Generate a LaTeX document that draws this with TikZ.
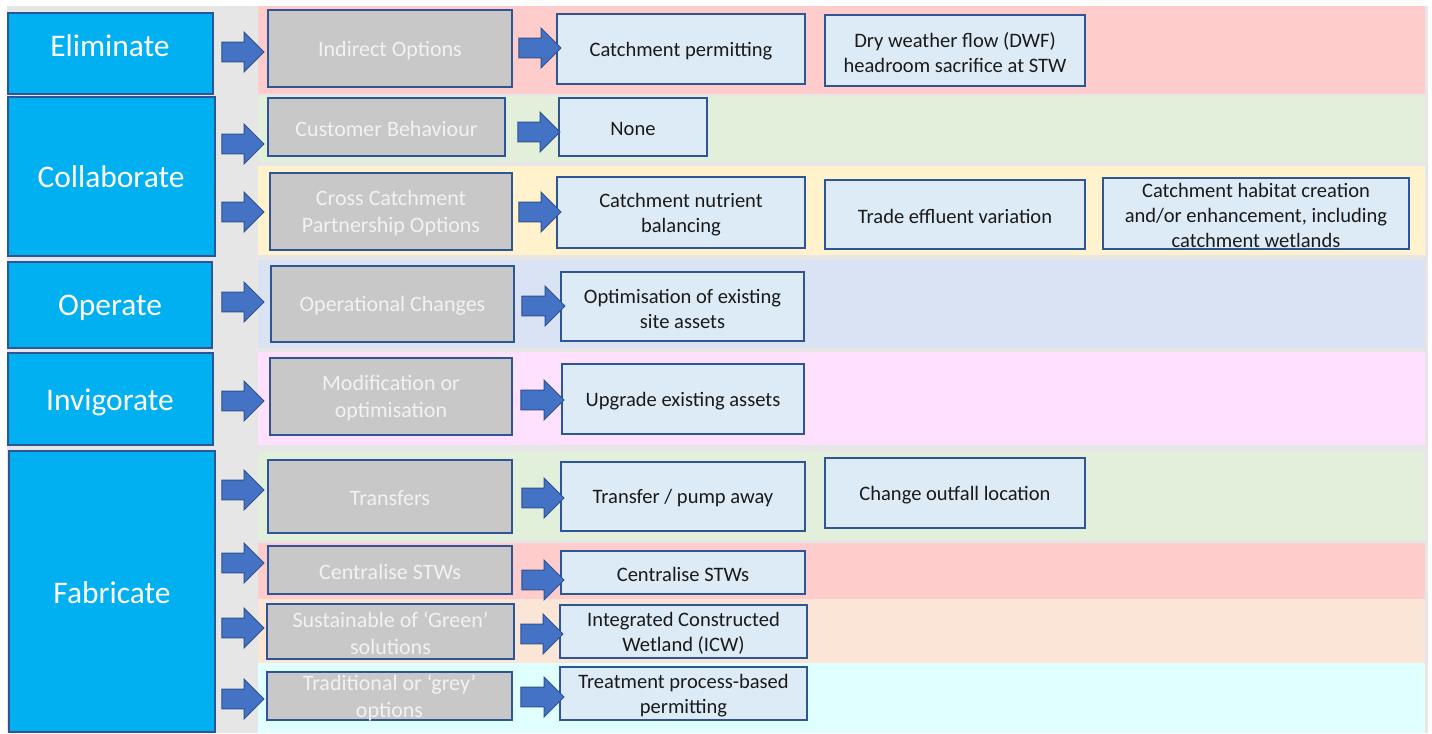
\documentclass[tikz,border=0pt]{standalone}
\usepackage{fontspec}
\setmainfont{Carlito}
\usetikzlibrary{shapes.arrows}

\definecolor{panelgray}{HTML}{E6E6E6}
\definecolor{levelblue}{HTML}{00B0F0}
\definecolor{boxedge}{HTML}{2F5597}
\definecolor{optgray}{HTML}{C8C8C8}
\definecolor{optblue}{HTML}{DDEBF7}
\definecolor{arrowfill}{HTML}{4472C4}
\definecolor{arrowedge}{HTML}{2F528F}
\definecolor{bandred}{HTML}{FFCCCC}
\definecolor{bandgreen}{HTML}{E2EFDA}
\definecolor{bandyellow}{HTML}{FFF2CC}
\definecolor{bandblue}{HTML}{DAE3F3}
\definecolor{bandpink}{HTML}{FFE0FF}
\definecolor{bandpeach}{HTML}{FBE5D6}
\definecolor{bandcyan}{HTML}{E0FFFF}
\definecolor{lighttext}{HTML}{F2F2F2}
\definecolor{darktext}{HTML}{1A1A1A}

% a box of given corners (in px units): style, name, x1, y1, x2, y2
\newcommand\boxat[6]{%
  \node[#1, minimum width={(#5-#3)*0.75pt}, minimum height={(#6-#4)*0.75pt}]
    (#2) at ({(#3+#5)/2},{(#4+#6)/2}) {};}
% a block arrow: name, tail x, tip x, centre y
\newcommand\blockarrow[4]{%
  \node[blockarr, minimum height={(#3-#2)*0.75pt}] (#1) at ({(#2+#3)/2},#4) {};}
% a coloured band behind one row: colour, top y, bottom y
\newcommand\band[3]{\fill[#1] (258,#2) rectangle (1425,#3);}

\begin{document}
\begin{tikzpicture}[x=0.75pt, y=-0.75pt,
  levelbox/.style={draw=boxedge, fill=levelblue, line width=1.2pt, inner sep=0pt},
  optbox/.style={draw=boxedge, fill=optgray, line width=1pt, inner sep=0pt},
  resbox/.style={draw=boxedge, fill=optblue, line width=1pt, inner sep=0pt},
  leveltxt/.style={text=white, font=\fontsize{23.6}{28}\selectfont, inner sep=0pt},
  opttxt/.style={text=lighttext, align=center, font=\fontsize{16.5}{20.25}\selectfont,
    inner sep=0pt, yshift=-1.5pt},
  restxt/.style={text=darktext, align=center, font=\fontsize{15.4}{18.75}\selectfont,
    inner sep=0pt, yshift=-1.5pt},
  blockarr/.style={single arrow, draw=arrowedge, fill=arrowfill, line width=0.75pt,
    inner xsep=0pt, inner ysep=7.1pt, single arrow head extend=7.5pt,
    single arrow tip angle=90},
]
\useasboundingbox (0,0) rectangle (1432,733);

% panel and row bands
\fill[panelgray] (7,6) rectangle (1428,733);
\band{bandred}{6}{94}
\band{bandgreen}{96}{162}
\band{bandyellow}{166}{255}
\band{bandblue}{260}{348}
\band{bandpink}{352}{445}
\band{bandgreen}{452}{540}
\band{bandred}{543}{599}
\band{bandpeach}{599}{663}
\band{bandcyan}{663}{733}

% level boxes
\boxat{levelbox}{L1}{8}{13}{213}{94}
\boxat{levelbox}{L2}{8}{97}{215}{256}
\boxat{levelbox}{L3}{8}{262}{212}{348}
\boxat{levelbox}{L4}{8}{353}{213}{445}
\boxat{levelbox}{L5}{9}{451}{215}{732}
\node[leveltxt] (L1t) at (110,46) {Eliminate};
\node[leveltxt] (L2t) at (111,177) {Collaborate};
\node[leveltxt] (L3t) at (110,308) {Operate};
\node[leveltxt] (L4t) at (110,402) {Invigorate};
\node[leveltxt] (L5t) at (112,593) {Fabricate};

% option boxes
\boxat{optbox}{G1}{268}{10}{512}{87}
\boxat{optbox}{G2}{268}{98}{505}{156}
\boxat{optbox}{G3}{270}{173}{512}{250}
\boxat{optbox}{G4}{271}{266}{514}{342}
\boxat{optbox}{G5}{270}{358}{512}{435}
\boxat{optbox}{G6}{268}{460}{512}{533}
\boxat{optbox}{G7}{268}{546}{512}{594}
\boxat{optbox}{G8}{267}{604}{514}{659}
\boxat{optbox}{G9}{267}{672}{512}{720}
\node[opttxt] (G1t) at (G1) {Indirect Options};
\node[opttxt] (G2t) at (G2) {Customer Behaviour};
\node[opttxt] (G3t) at (G3) {Cross Catchment\\Partnership Options};
\node[opttxt] (G4t) at (G4) {Operational Changes};
\node[opttxt] (G5t) at (G5) {Modification or\\optimisation};
\node[opttxt] (G6t) at (G6) {Transfers};
\node[opttxt] (G7t) at (G7) {Centralise STWs};
\node[opttxt] (G8t) at (G8) {Sustainable of ‘Green’\\solutions};
\node[opttxt] (G9t) at (G9) {Traditional or ‘grey’\\options};

% measure boxes
\boxat{resbox}{R1}{557}{14}{805}{84}
\boxat{resbox}{R2}{825}{15}{1085}{86}
\boxat{resbox}{R3}{559}{98}{707}{156}
\boxat{resbox}{R4}{557}{177}{805}{248}
\boxat{resbox}{R5}{825}{180}{1085}{249}
\boxat{resbox}{R6}{1103}{178}{1409}{249}
\boxat{resbox}{R7}{561}{272}{804}{341}
\boxat{resbox}{R8}{562}{364}{804}{434}
\boxat{resbox}{R9}{561}{462}{805}{531}
\boxat{resbox}{R10}{825}{458}{1085}{528}
\boxat{resbox}{R11}{561}{551}{805}{594}
\boxat{resbox}{R12}{560}{605}{807}{658}
\boxat{resbox}{R13}{560}{667}{807}{720}
\node[restxt] (R1t) at (R1) {Catchment permitting};
\node[restxt] (R2t) at (R2) {Dry weather flow (DWF)\\headroom sacrifice at STW};
\node[restxt] (R3t) at (R3) {None};
\node[restxt] (R4t) at (R4) {Catchment nutrient\\balancing};
\node[restxt] (R5t) at (R5) {Trade effluent variation};
\node[restxt] (R6t) at (R6) {Catchment habitat creation\\and/or enhancement, including\\catchment wetlands};
\node[restxt] (R7t) at (R7) {Optimisation of existing\\site assets};
\node[restxt] (R8t) at (R8) {Upgrade existing assets};
\node[restxt] (R9t) at (R9) {Transfer / pump away};
\node[restxt] (R10t) at (R10) {Change outfall location};
\node[restxt] (R11t) at (R11) {Centralise STWs};
\node[restxt] (R12t) at (R12) {Integrated Constructed\\Wetland (ICW)};
\node[restxt] (R13t) at (R13) {Treatment process-based\\permitting};

% block arrows from levels to options
\blockarrow{A1}{217}{259}{52}
\blockarrow{A2}{217}{259}{144}
\blockarrow{A3}{217}{259}{212}
\blockarrow{A4}{217}{259}{302}
\blockarrow{A5}{217}{259}{401}
\blockarrow{A6}{217}{259}{490}
\blockarrow{A7}{217}{259}{563}
\blockarrow{A8}{217}{259}{628}
\blockarrow{A9}{217}{259}{699}

% block arrows from options to measures
\blockarrow{B1}{514}{556}{48}
\blockarrow{B2}{513}{555}{132}
\blockarrow{B3}{514}{556}{212}
\blockarrow{B4}{517}{560}{306}
\blockarrow{B5}{516}{559}{400}
\blockarrow{B6}{517}{559}{498}
\blockarrow{B7}{517}{559}{580}
\blockarrow{B8}{516}{558}{634}
\blockarrow{B9}{516}{559}{697}
\end{tikzpicture}
\end{document}
